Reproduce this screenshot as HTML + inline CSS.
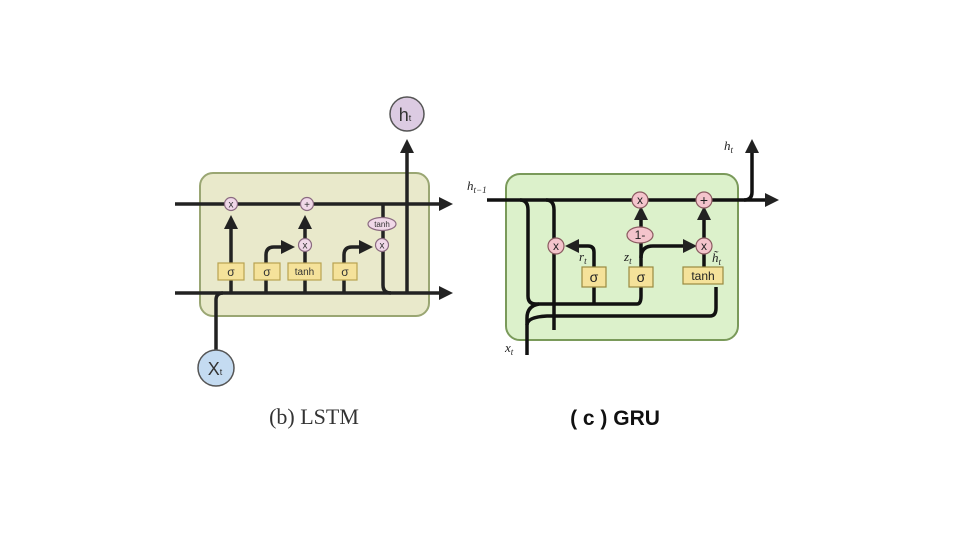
<!DOCTYPE html><html><head><style>body{margin:0;background:#fff}svg{display:block}</style></head><body>
<svg width="960" height="540" viewBox="0 0 960 540" xmlns="http://www.w3.org/2000/svg" font-family="Liberation Sans, sans-serif">
<defs><marker id="a" markerWidth="4" markerHeight="4" refX="2" refY="2" orient="auto" markerUnits="strokeWidth"><path d="M0,0L4,2L0,4z" fill="#222"/></marker></defs>
<!-- LSTM -->
<rect x="200" y="173" width="229" height="143" rx="13" fill="#e9e9cb" stroke="#9aa673" stroke-width="2"/>
<g stroke="#222" stroke-width="3.5" fill="none">
<line x1="175" y1="204" x2="446" y2="204" marker-end="url(#a)"/>
<line x1="175" y1="293" x2="446" y2="293" marker-end="url(#a)"/>
<path d="M216,350V300q0,-7 7,-7"/>
<line x1="231" y1="293" x2="231" y2="222" marker-end="url(#a)"/>
<path d="M266,293V255q0,-8 8,-8H288" marker-end="url(#a)"/>
<line x1="305" y1="293" x2="305" y2="222" marker-end="url(#a)"/>
<path d="M344,293q0,0 0,-12V255q0,-8 8,-8H366" marker-end="url(#a)"/>
<path d="M383,204V245V285q0,8 8,8"/>
<line x1="407" y1="293" x2="407" y2="146" marker-end="url(#a)"/>
</g>
<g fill="#f0d8e8" stroke="#8a6a80" stroke-width="1.2">
<circle cx="231" cy="204" r="6.5"/><circle cx="307" cy="204" r="6.5"/><circle cx="305" cy="245" r="6.5"/><circle cx="382" cy="245" r="6.5"/><ellipse cx="382" cy="224" rx="14" ry="6.5"/>
</g>
<g font-size="10" fill="#333" text-anchor="middle"><text x="231" y="207.5">x</text><text x="307" y="208">+</text><text x="305" y="248.5">x</text><text x="382" y="248.5">x</text><text x="382" y="227" font-size="8">tanh</text></g>
<g fill="#f5e29a" stroke="#b9a350" stroke-width="1.2">
<rect x="218" y="263" width="26" height="17"/><rect x="254" y="263" width="26" height="17"/><rect x="288" y="263" width="33" height="17"/><rect x="333" y="263" width="24" height="17"/></g>
<g font-size="12" fill="#333" text-anchor="middle"><text x="231" y="276">σ</text><text x="267" y="276">σ</text><text x="304.5" y="275" font-size="10">tanh</text><text x="345" y="276">σ</text></g>
<circle cx="407" cy="114" r="17" fill="#dccbe2" stroke="#555" stroke-width="1.5"/><text x="405" y="121" font-size="18" fill="#333" text-anchor="middle">h<tspan font-size="9">t</tspan></text>
<circle cx="216" cy="368" r="18" fill="#c4dbf1" stroke="#555" stroke-width="1.5"/><text x="215" y="375" font-size="18" fill="#333" text-anchor="middle">X<tspan font-size="9">t</tspan></text>
<text x="314" y="424" font-family="Liberation Serif, serif" font-size="22" fill="#333" text-anchor="middle">(b) LSTM</text>
<!-- GRU -->
<rect x="506" y="174" width="232" height="166" rx="14" fill="#dcf1cb" stroke="#7a9a5a" stroke-width="2"/>
<g stroke="#111" stroke-width="3.5" fill="none">
<line x1="487" y1="200" x2="772" y2="200" marker-end="url(#a)"/>
<path d="M744,200q8,0 8,-8V146" marker-end="url(#a)"/>
<path d="M520,200q8,0 8,10V296q0,8 8,8H637q4,0 4,-8V287"/>
<path d="M546,200q8,0 8,10V330"/>
<path d="M527,355V318q0,-12 12,-14"/>
<path d="M527,325q0,-8 20,-9H710q6,0 6,-8V287"/>
<path d="M594,304V287M594,267V252q0,-6 -6,-6H572" marker-end="url(#a)"/>
<line x1="641" y1="267" x2="641" y2="213" marker-end="url(#a)"/>
<path d="M641,258q0,-12 12,-12H690" marker-end="url(#a)"/>
<line x1="704" y1="268" x2="704" y2="213" marker-end="url(#a)"/>
</g>
<g fill="#f4c4cc" stroke="#8a5a60" stroke-width="1.2">
<circle cx="640" cy="200" r="8"/><circle cx="704" cy="200" r="8"/><circle cx="556" cy="246" r="8"/><circle cx="704" cy="246" r="8"/><ellipse cx="640" cy="235" rx="13" ry="8"/></g>
<g font-size="12" fill="#222" text-anchor="middle"><text x="640" y="204">x</text><text x="704" y="205" font-size="14">+</text><text x="556" y="250">x</text><text x="704" y="250">x</text><text x="640" y="239">1-</text></g>
<g fill="#f5e29a" stroke="#9a8a40" stroke-width="1.2"><rect x="582" y="267" width="24" height="20"/><rect x="629" y="267" width="24" height="20"/><rect x="683" y="267" width="40" height="17"/></g>
<g font-size="14" fill="#222" text-anchor="middle"><text x="594" y="282">σ</text><text x="641" y="282">σ</text><text x="703" y="280" font-size="12">tanh</text></g>
<g font-family="Liberation Serif, serif" font-style="italic" fill="#222" font-size="13">
<text x="467" y="190">h<tspan font-size="9" dy="3">t−1</tspan></text>
<text x="724" y="150">h<tspan font-size="9" dy="3">t</tspan></text>
<text x="579" y="261">r<tspan font-size="9" dy="3">t</tspan></text>
<text x="624" y="261">z<tspan font-size="9" dy="3">t</tspan></text>
<text x="712" y="262">h̃<tspan font-size="9" dy="3">t</tspan></text>
<text x="505" y="352">x<tspan font-size="9" dy="3">t</tspan></text></g>
<text x="615" y="425" font-size="21" font-weight="bold" fill="#111" text-anchor="middle">( c ) GRU</text>
</svg></body></html>
